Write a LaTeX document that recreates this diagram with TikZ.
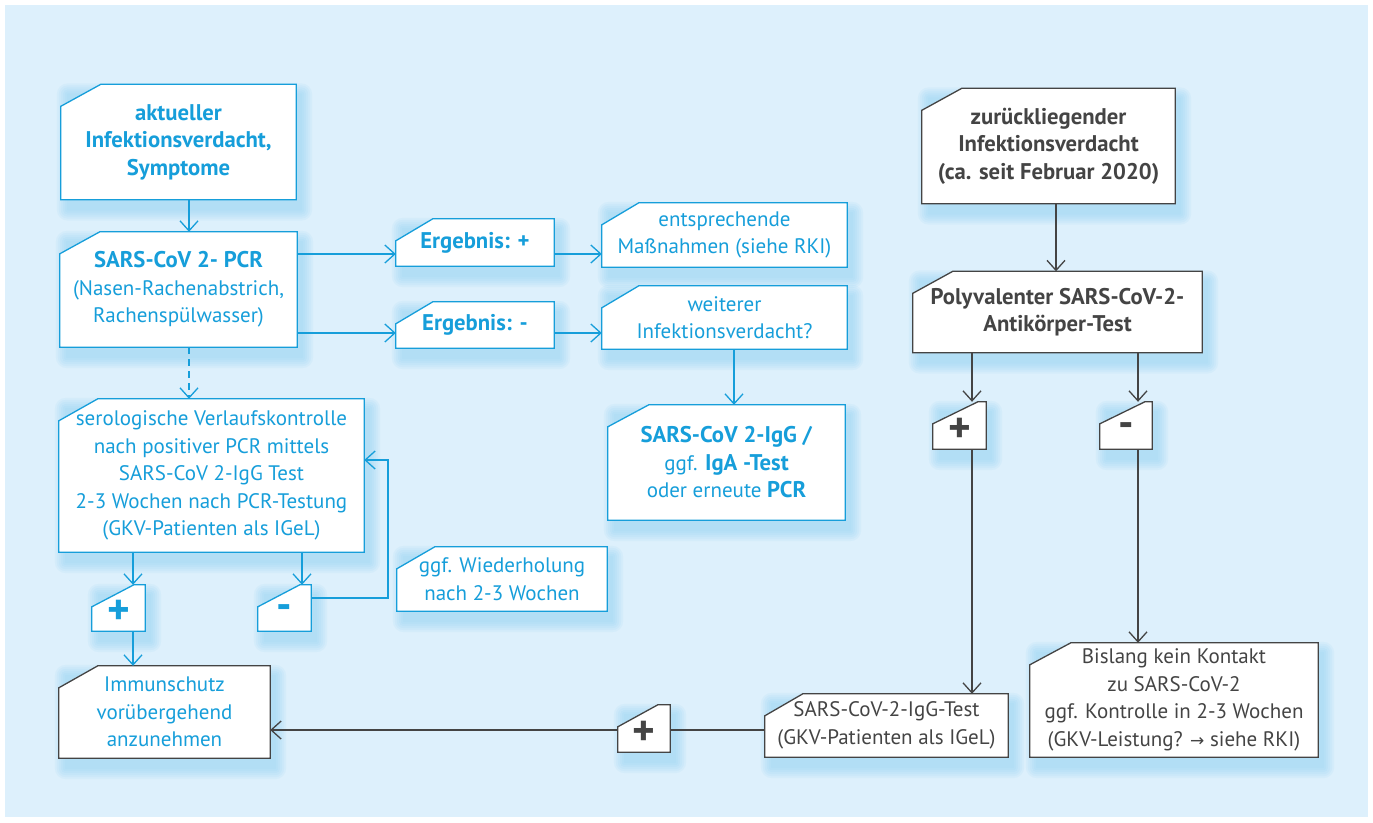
\documentclass[tikz,border=0pt]{standalone}
\usepackage{fontspec}
\setmainfont{PT Sans}[BoldFeatures={Scale=1.08}]
\newfontfamily\symfont{DejaVu Sans}
\usetikzlibrary{arrows.meta}
\definecolor{bl}{RGB}{22,158,218}
\definecolor{gr}{RGB}{68,68,68}
\definecolor{panel}{RGB}{221,240,252}
\definecolor{shad}{RGB}{140,208,242}
\pgfdeclarelayer{bgl}\pgfdeclarelayer{shl}\pgfdeclarelayer{boxl}
\pgfsetlayers{bgl,shl,boxl,main}
\newcommand\cutbox[3]{%
  \begin{pgfonlayer}{shl}
    \foreach \r in {1,3,5,7,9,11}{
      \fill[shad, opacity=0.11, rounded corners=\r pt]
        ([xshift=7pt-\r pt, yshift=\r pt-10pt]#1.north west) rectangle
        ([xshift=5pt+\r pt, yshift=-10pt-\r pt]#1.south east);
    }
  \end{pgfonlayer}
  \begin{pgfonlayer}{boxl}
    \filldraw[fill=white, draw=#2, line width=1.3pt, line join=miter]
      (#1.south west) -- (#1.south east) -- (#1.north east) --
      ([xshift=#3pt]#1.north west) -- ([yshift=-22pt]#1.north west) -- cycle;
  \end{pgfonlayer}}
\begin{document}
\begin{tikzpicture}[x=1pt,y=-1pt,
  box/.style={inner sep=0pt, align=center, font=\fontsize{21}{27.5}\selectfont},
  bt/.style={box, text=bl},
  gt/.style={box, text=gr},
  con/.style={line width=1.3pt},
  arr/.style={con, -{Straight Barb[length=10pt,width=18pt]}},
  sign/.style={box, font=\fontsize{40}{40}\selectfont\bfseries}
]
\useasboundingbox (0,0) rectangle (1373,822);
\begin{pgfonlayer}{bgl}
  \fill[panel] (5,5) rectangle (1368,817);
\end{pgfonlayer}

% left column (blue)
\node[bt, minimum width=235pt, minimum height=115pt] (A) at (178.5,142)
  {\textbf{aktueller}\\\textbf{Infektionsverdacht,}\\\textbf{Symptome}};
\node[bt, minimum width=237pt, minimum height=115pt] (B) at (178.5,289.5)
  {\textbf{SARS-CoV 2- PCR}\\(Nasen-Rachenabstrich,\\Rachenspülwasser)};
\node[bt, minimum width=158pt, minimum height=47pt] (C) at (475,242.5)
  {\textbf{Ergebnis: +}};
\node[bt, minimum width=245pt, minimum height=64pt] (D) at (724.5,235)
  {entsprechende\\Maßnahmen (siehe RKI)};
\node[bt, minimum width=158pt, minimum height=46pt] (E) at (475,325)
  {\textbf{Ergebnis: -}};
\node[bt, minimum width=245pt, minimum height=63pt] (F) at (724.5,317.5)
  {weiterer\\Infektionsverdacht?};
\node[bt, minimum width=237pt, minimum height=115pt] (G) at (726.5,462.5)
  {\textbf{SARS-CoV 2-IgG /}\\ggf. \textbf{IgA -Test}\\oder erneute \textbf{PCR}};
\node[bt, minimum width=305pt, minimum height=153pt] (H) at (211.5,475.5)
  {serologische Verlaufskontrolle\\nach positiver PCR mittels\\SARS-CoV 2-IgG Test\\2-3 Wochen nach PCR-Testung\\(GKV-Patienten als IGeL)};
\node[bt, minimum width=53pt, minimum height=46pt] (I) at (118.5,608) {};
\node[sign, text=bl] (Itx) at (118.5,612) {+};
\node[bt, minimum width=53pt, minimum height=46pt] (J) at (284.5,608) {};
\node[sign, text=bl] (Jtx) at (284.5,612) {-};
\node[bt, minimum width=210pt, minimum height=64pt] (K) at (502,579)
  {ggf. Wiederholung\\nach 2-3 Wochen};
\node[bt, minimum width=211pt, minimum height=92pt] (L) at (164.5,712)
  {Immunschutz\\vorübergehend\\anzunehmen};

% right column (gray)
\node[gt, minimum width=253pt, minimum height=115pt] (M) at (1048.5,146)
  {\textbf{zurückliegender}\\\textbf{Infektionsverdacht}\\\textbf{(ca. seit Februar 2020)}};
\node[gt, minimum width=289pt, minimum height=81pt] (N) at (1057.5,312)
  {\textbf{Polyvalenter SARS-CoV-2-}\\\textbf{Antikörper-Test}};
\node[gt, minimum width=53pt, minimum height=47pt] (O) at (959.5,425.5) {};
\node[sign, text=gr] (Otx) at (959.5,430) {+};
\node[gt, minimum width=52pt, minimum height=47pt] (P) at (1126,425.5) {};
\node[sign, text=gr] (Ptx) at (1126,430) {-};
\node[gt, minimum width=243pt, minimum height=63pt] (Q) at (886.5,725.5)
  {SARS-CoV-2-IgG-Test\\(GKV-Patienten als IGeL)};
\node[gt, minimum width=288pt, minimum height=114pt] (R) at (1174,700)
  {Bislang kein Kontakt\\zu SARS-CoV-2\\ggf. Kontrolle in 2-3 Wochen\\(GKV-Leistung? {\symfont\fontsize{17}{20}\selectfont →} siehe RKI)};
\node[gt, minimum width=52pt, minimum height=47pt] (S) at (644,728.5) {};
\node[sign, text=gr] (Stx) at (644,733) {+};

% box outlines
\cutbox{A}{bl}{40}\cutbox{B}{bl}{40}\cutbox{C}{bl}{37}\cutbox{D}{bl}{37}
\cutbox{E}{bl}{37}\cutbox{F}{bl}{37}\cutbox{G}{bl}{41}\cutbox{H}{bl}{39}
\cutbox{I}{bl}{42}\cutbox{J}{bl}{42}\cutbox{K}{bl}{38}\cutbox{L}{gr}{39}
\cutbox{M}{gr}{40}\cutbox{N}{gr}{40}\cutbox{O}{gr}{45}\cutbox{P}{gr}{45}
\cutbox{Q}{gr}{38}\cutbox{R}{gr}{41}\cutbox{S}{gr}{40}

% helper coordinates
\coordinate (xA) at (189,0);
\coordinate (yC) at (0,254);
\coordinate (yE) at (0,333);
\coordinate (xF) at (734,0);
\coordinate (xI) at (133,0);
\coordinate (xJ) at (302,0);
\coordinate (loopA) at (388,598);
\coordinate (loopB) at (388,460);
\coordinate (xM) at (1056,0);
\coordinate (xO) at (972,0);
\coordinate (xP) at (1138,0);
\coordinate (yQ) at (0,730);

% blue connectors
\begin{scope}[draw=bl]
\draw[arr] (A.south -| xA) -- (B.north -| xA);
\draw[arr] (B.east |- yC) -- (C.west |- yC);
\draw[arr] (C.east |- yC) -- (D.west |- yC);
\draw[arr] (B.east |- yE) -- (E.west |- yE);
\draw[arr] (E.east |- yE) -- (F.west |- yE);
\draw[arr] (F.south -| xF) -- (G.north -| xF);
\draw[arr, dash pattern=on 7pt off 5pt] (B.south -| xA) -- (H.north -| xA);
\draw[arr] (H.south -| xI) -- (I.north -| xI);
\draw[arr] (I.south -| xI) -- (L.north -| xI);
\draw[arr] (H.south -| xJ) -- (J.north -| xJ);
\draw[arr] (J.east |- loopA) -- (loopA) -- (loopB) -- (H.east |- loopB);
\end{scope}

% gray connectors
\begin{scope}[draw=gr]
\draw[arr] (M.south -| xM) -- (N.north -| xM);
\draw[arr] (N.south -| xO) -- (O.north -| xO);
\draw[arr] (N.south -| xP) -- (P.north -| xP);
\draw[arr] (O.south -| xO) -- (Q.north -| xO);
\draw[arr] (P.south -| xP) -- (R.north -| xP);
\draw[con] (Q.west |- yQ) -- (S.east |- yQ);
\draw[arr] (S.west |- yQ) -- (L.east |- yQ);
\end{scope}
\end{tikzpicture}
\end{document}
